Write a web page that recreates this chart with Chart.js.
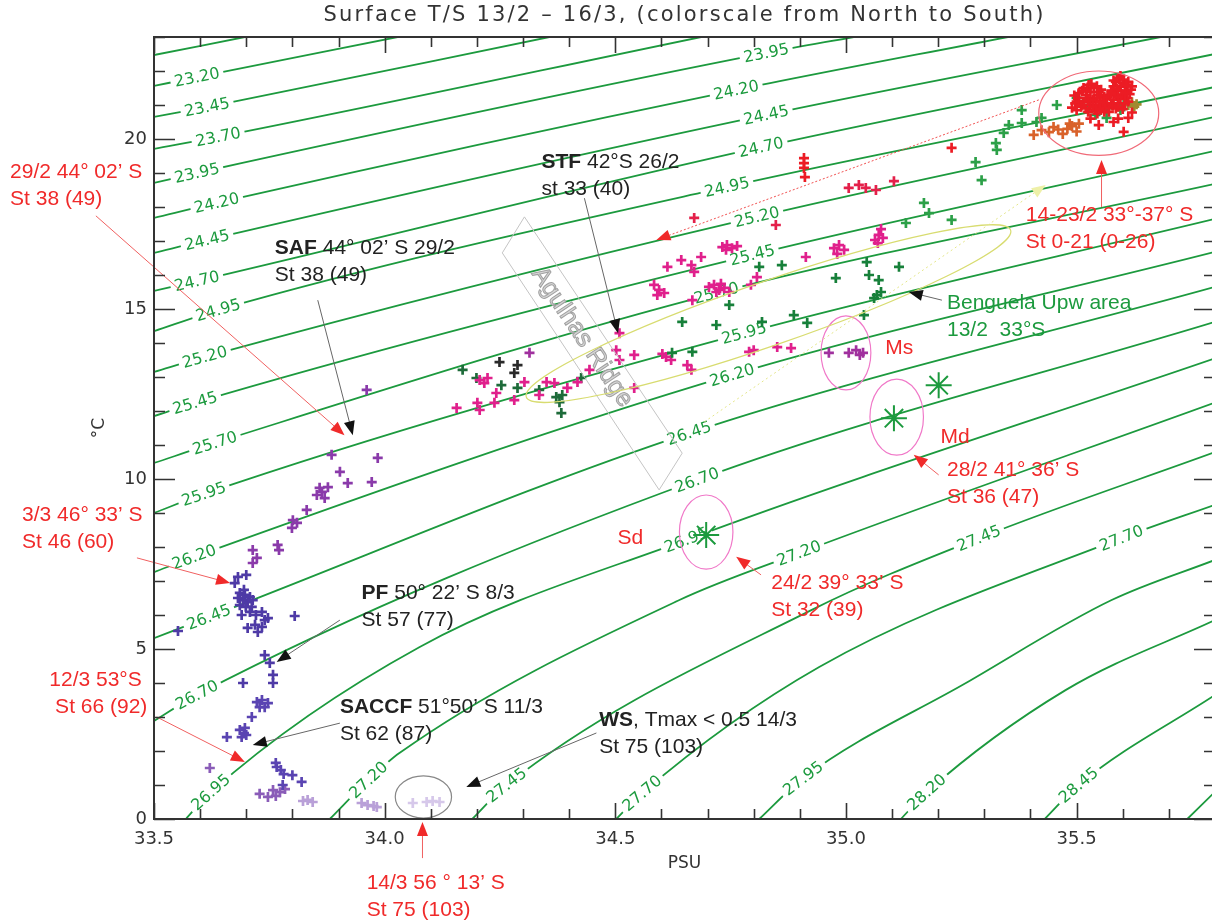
<!DOCTYPE html>
<html>
<head>
<meta charset="utf-8">
<title>Surface T/S</title>
<script src="https://cdn.jsdelivr.net/npm/chart.js@4.4.1/dist/chart.umd.min.js"></script>
<style>
  html, body { margin: 0; padding: 0; background: #fff; overflow: hidden; }
  #wrap { width: 1230px; height: 922px; }
</style>
</head>
<body>
<div id="wrap"><canvas id="ts" width="1230" height="922"></canvas></div>
<script>
// ── Axes ──────────────────────────────────────────────────────────────────────
const psuTicks  = [33.5, 34.0, 34.5, 35.0, 35.5];
const tempTicks = [0, 5, 10, 15, 20];

// ── Isopycnals (sigma-t), [PSU, °C] vertices ─────────────────────────────────
const sig2295 = [[33.5, 22.47], [33.697, 23.0]];
const sig2320 = [[33.5, 21.56], [33.593, 21.82], [34.028, 23.0]];
const sig2345 = [[33.5, 20.65], [33.615, 20.94], [34.357, 23.0]];
const sig2370 = [[33.5, 19.71], [33.639, 20.06], [34.686, 23.0]];
const sig2395 = [[33.5, 18.71], [33.593, 19.0], [34.827, 22.53], [35.017, 23.0]];
const sig2420 = [[33.5, 17.68], [33.636, 18.12], [34.762, 21.44], [35.351, 23.0]];
const sig2445 = [[33.5, 16.65], [33.615, 17.03], [34.827, 20.71], [35.682, 23.0]];
const sig2470 = [[33.5, 15.53], [33.593, 15.82], [34.816, 19.76], [35.8, 22.50]];
const sig2495 = [[33.5, 14.35], [33.639, 14.97], [34.742, 18.59], [35.8, 21.53]];
const sig2520 = [[33.5, 13.15], [33.610, 13.59], [34.807, 17.71], [35.8, 20.65]];
const sig2545 = [[33.5, 11.85], [33.589, 12.24], [34.797, 16.59], [35.8, 19.65]];
const sig2570 = [[33.5, 10.47], [33.632, 11.06], [34.719, 15.47], [35.8, 18.68]];
const sig2595 = [[33.5, 9.0], [33.608, 9.56], [34.779, 14.29], [35.8, 17.65]];
const sig2620 = [[33.5, 7.26], [33.587, 7.71], [34.753, 13.06], [35.8, 16.68]];
const sig2645 = [[33.5, 5.32], [33.619, 5.94], [34.660, 11.35], [35.8, 15.65]];
const sig2670 = [[33.5, 2.88], [33.593, 3.65], [34.677, 9.97], [35.8, 14.62]];
const sig2695 = [[33.569, 0], [33.623, 0.79], [34.076, 5.06], [34.654, 8.21], [35.8, 13.55]];
const sig2720 = [[33.881, 0], [33.965, 1.15], [34.032, 1.94], [34.639, 6.44], [34.898, 7.82], [35.8, 12.25]];
const sig2745 = [[34.190, 0], [34.264, 1.0], [34.926, 6.15], [35.288, 8.26], [35.8, 10.79]];
const sig2770 = [[34.502, 0], [34.558, 0.76], [34.942, 4.47], [35.597, 8.26], [35.8, 9.24]];
const sig2795 = [[34.812, 0], [34.907, 1.2], [35.260, 4.0], [35.576, 6.44], [35.8, 7.62]];
const sig2820 = [[35.119, 0], [35.175, 0.79], [35.476, 3.79], [35.8, 5.85]];
const sig2845 = [[35.431, 0], [35.504, 1.0], [35.8, 3.65]];
const sig2870 = [[35.740, 0], [35.8, 0.80]];

const isopycnals = [
  [22.95, sig2295], [23.20, sig2320], [23.45, sig2345], [23.70, sig2370],
  [23.95, sig2395], [24.20, sig2420], [24.45, sig2445], [24.70, sig2470],
  [24.95, sig2495], [25.20, sig2520], [25.45, sig2545], [25.70, sig2570],
  [25.95, sig2595], [26.20, sig2620], [26.45, sig2645], [26.70, sig2670],
  [26.95, sig2695], [27.20, sig2720], [27.45, sig2745], [27.70, sig2770],
  [27.95, sig2795], [28.20, sig2820], [28.45, sig2845], [28.70, sig2870]
];

// where each contour carries its value label (sigma, PSU, °C)
const isoLabelSpots = [
  [23.20, 33.593, 21.82], [23.45, 33.615, 20.94], [23.70, 33.639, 20.06],
  [23.95, 33.593, 19.0],  [24.20, 33.636, 18.12], [24.45, 33.615, 17.03],
  [24.70, 33.593, 15.82], [24.95, 33.639, 14.97], [25.20, 33.610, 13.59],
  [25.45, 33.589, 12.24], [25.70, 33.632, 11.06], [25.95, 33.608, 9.56],
  [26.20, 33.587, 7.71],  [26.45, 33.619, 5.94],  [26.70, 33.593, 3.65],
  [26.95, 33.623, 0.79],  [27.20, 33.965, 1.15],  [27.45, 34.264, 1.0],
  [27.70, 34.558, 0.76],  [27.95, 34.907, 1.2],   [28.20, 35.175, 0.79],
  [28.45, 35.504, 1.0],
  [23.95, 34.827, 22.53], [24.20, 34.762, 21.44], [24.45, 34.827, 20.71],
  [24.70, 34.816, 19.76], [24.95, 34.742, 18.59], [25.20, 34.807, 17.71],
  [25.45, 34.797, 16.59], [25.70, 34.719, 15.47], [25.95, 34.779, 14.29],
  [26.20, 34.753, 13.06], [26.45, 34.660, 11.35], [26.70, 34.677, 9.97],
  [26.95, 34.654, 8.21],  [27.20, 34.898, 7.82],  [27.45, 35.288, 8.26],
  [27.70, 35.597, 8.26]
];

// ── Surface stations, [PSU, °C], grouped north to south ──────────────────────
const northRed = [
  [35.515, 21.5], [35.526, 21.59], [35.537, 21.5], [35.53, 21.38], [35.52, 21.29],
  [35.537, 21.2], [35.548, 21.38], [35.55, 21.29], [35.541, 21.09], [35.53, 21.0],
  [35.515, 21.09], [35.505, 21.2], [35.548, 21.0], [35.558, 21.12], [35.56, 21.25],
  [35.52, 20.9], [35.54, 20.85], [35.555, 20.95], [35.51, 20.95], [35.497, 21.05],
  [35.49, 20.92], [35.50, 20.85], [35.525, 20.8], [35.545, 20.75], [35.56, 20.8],
  [35.591, 21.79], [35.602, 21.75], [35.585, 21.68], [35.6, 21.65], [35.612, 21.68],
  [35.58, 21.55], [35.595, 21.55], [35.61, 21.55], [35.575, 21.42], [35.59, 21.42],
  [35.605, 21.42], [35.618, 21.45], [35.57, 21.3], [35.585, 21.3], [35.6, 21.3],
  [35.615, 21.32], [35.565, 21.18], [35.58, 21.15], [35.595, 21.18], [35.61, 21.2],
  [35.575, 21.05], [35.59, 21.05], [35.605, 21.05], [35.57, 20.92], [35.585, 20.9],
  [35.6, 20.88], [35.565, 21.05], [35.57, 20.8], [35.548, 20.41], [35.58, 20.5],
  [35.602, 20.21], [35.612, 20.62], [35.59, 20.6], [35.53, 20.6], [35.62, 20.78],
  [35.505, 21.35], [35.512, 21.42], [35.522, 21.45], [35.532, 21.62], [35.544, 21.55],
  [35.553, 21.45], [35.5, 21.1], [35.495, 21.28], [35.535, 21.15], [35.545, 21.22],
  [35.552, 21.08], [35.525, 21.12], [35.51, 21.0], [35.58, 21.72], [35.595, 21.85],
  [35.607, 21.6], [35.62, 21.55], [35.588, 21.48], [35.575, 21.35], [35.59, 21.24],
  [35.605, 21.36], [35.612, 21.1], [35.578, 20.98], [35.562, 20.9], [35.59, 20.95],
  [35.535, 20.95], [35.55, 20.88],
  [34.909, 19.44], [34.909, 19.29], [34.909, 19.15], [34.911, 18.88], [35.229, 19.74]
];
const northOrange = [
  [35.407, 20.12], [35.424, 20.26], [35.44, 20.2], [35.45, 20.35], [35.46, 20.28],
  [35.47, 20.15], [35.48, 20.3], [35.49, 20.38], [35.50, 20.22], [35.505, 20.45], [35.485, 20.45]
];
const northOlive = [[35.612, 21.0], [35.625, 20.95], [35.62, 21.08], [35.63, 21.02]];
const crimsonRow = [
  [35.006, 18.56], [35.028, 18.65], [35.043, 18.56], [35.065, 18.5], [35.104, 18.76],
  [34.671, 17.68], [34.848, 17.47]
];
const benguelaGreen = [
  [35.13, 17.53], [35.169, 18.12], [35.18, 17.82], [35.229, 17.62], [35.281, 19.32],
  [35.294, 18.79], [35.325, 19.88], [35.327, 19.68], [35.342, 20.18], [35.353, 20.41],
  [35.381, 20.85], [35.381, 20.47], [35.413, 20.5], [35.424, 20.62], [35.457, 21.0],
  [35.50, 21.21], [35.526, 20.94], [35.552, 20.85], [35.541, 20.71], [35.565, 20.91],
  [35.602, 21.0], [35.595, 20.85], [35.515, 21.09], [35.565, 20.62]
];
const benguelaDark = [
  [34.978, 15.91], [35.045, 16.38], [35.05, 16.0], [35.071, 15.85], [35.115, 16.24],
  [35.067, 15.41], [35.076, 15.5], [35.061, 15.32], [35.039, 14.82], [34.812, 16.24],
  [34.861, 16.29], [34.747, 15.12], [34.887, 14.82], [34.916, 14.59], [34.818, 14.62],
  [34.645, 14.62], [34.719, 14.53], [34.667, 13.74], [34.623, 13.71]
];
const stfMagenta = [
  [34.732, 16.82], [34.742, 16.88], [34.753, 16.79], [34.764, 16.85], [34.740, 16.74],
  [34.613, 16.24], [34.643, 16.44], [34.665, 16.29], [34.686, 16.53], [34.671, 16.09],
  [34.913, 16.53], [34.807, 15.94], [34.794, 15.71], [34.584, 15.71], [34.595, 15.56],
  [34.606, 15.47], [34.591, 15.41], [34.667, 15.26], [34.703, 15.65], [34.714, 15.71],
  [34.725, 15.56], [34.736, 15.62], [34.747, 15.5], [34.719, 15.5], [34.729, 15.74],
  [34.974, 16.79], [34.985, 16.88], [34.996, 16.74], [34.981, 16.62], [35.063, 17.03],
  [35.071, 17.18], [35.08, 17.09], [35.069, 16.94], [35.076, 17.35],
  [34.509, 14.29], [34.502, 13.79], [34.509, 13.5], [34.541, 13.65], [34.61, 13.59],
  [34.602, 13.68], [34.621, 13.5], [34.656, 13.35], [34.665, 13.21], [34.79, 13.74],
  [34.80, 13.79], [34.851, 13.88], [34.881, 13.85], [34.444, 13.21], [34.541, 12.68],
  [34.418, 12.85], [34.396, 12.68], [34.368, 12.82], [34.351, 12.85], [34.335, 12.47],
  [34.303, 12.85], [34.216, 12.82], [34.206, 12.91], [34.223, 12.97], [34.242, 12.53],
  [34.281, 12.32], [34.201, 12.24], [34.206, 12.03], [34.238, 12.24], [34.156, 12.09]
];
const stfDarkGreen = [
  [34.169, 13.21], [34.199, 12.97], [34.253, 12.76], [34.288, 12.68], [34.335, 12.62],
  [34.372, 12.41], [34.385, 12.47], [34.379, 12.26], [34.383, 11.94], [34.426, 12.97]
];
const stfBlack = [[34.249, 13.44], [34.281, 13.12], [34.288, 13.35]];
const msViolet = [[34.314, 13.71], [34.963, 13.71], [35.006, 13.71], [35.022, 13.79], [35.03, 13.65], [35.037, 13.71]];
const safPurple = [
  [33.961, 12.62], [33.885, 10.71], [33.985, 10.62], [33.903, 10.21], [33.92, 9.88],
  [33.972, 9.91], [33.877, 9.76], [33.859, 9.74], [33.853, 9.53], [33.870, 9.44],
  [33.864, 9.62], [33.831, 9.09], [33.801, 8.79], [33.81, 8.71], [33.799, 8.56],
  [33.768, 8.06], [33.771, 7.91], [33.714, 7.91], [33.723, 7.68], [33.714, 7.53]
];
const pfBlue = [
  [33.70, 7.18], [33.682, 7.12], [33.675, 6.94], [33.686, 6.65], [33.697, 6.59],
  [33.708, 6.53], [33.693, 6.44], [33.703, 6.38], [33.714, 6.44], [33.686, 6.29],
  [33.699, 6.24], [33.712, 6.24], [33.682, 6.5], [33.695, 6.74], [33.708, 6.09],
  [33.721, 6.0], [33.69, 6.0], [33.734, 6.09], [33.74, 5.85], [33.719, 5.71],
  [33.703, 5.62], [33.725, 5.5], [33.734, 5.65], [33.747, 5.91], [33.805, 5.97],
  [33.552, 5.53], [33.74, 4.82], [33.751, 4.59], [33.758, 4.24], [33.758, 4.0], [33.693, 4.0]
];
const saccfBlue = [
  [33.723, 3.44], [33.734, 3.5], [33.747, 3.41], [33.74, 3.29], [33.729, 3.29],
  [33.712, 3.0], [33.686, 2.62], [33.695, 2.53], [33.70, 2.47], [33.69, 2.41],
  [33.697, 2.68], [33.658, 2.41], [33.766, 1.53], [33.775, 1.44], [33.781, 1.32],
  [33.764, 1.65], [33.80, 1.29], [33.82, 1.09], [33.779, 1.0]
];
const southPurple = [[33.621, 1.5], [33.773, 0.79], [33.758, 0.85], [33.729, 0.74], [33.764, 0.68], [33.784, 0.88], [33.747, 0.65]];
const southLavender = [[33.823, 0.53], [33.833, 0.56], [33.844, 0.5], [33.95, 0.47], [33.963, 0.41], [33.976, 0.38], [33.983, 0.35]];
const weddellPale = [[34.061, 0.47], [34.091, 0.5], [34.104, 0.53], [34.119, 0.5]];

// single CTD casts marked with a star (Sd, Md and the one beside it)
const castStars = [[34.697, 8.35], [35.104, 11.79], [35.201, 12.76]];

const stationGroups = [
  [northRed, '#ec1c24'], [northOrange, '#d9622a'], [northOlive, '#a08a30'],
  [crimsonRow, '#e4204a'], [benguelaGreen, '#2ca048'], [benguelaDark, '#17803a'],
  [stfMagenta, '#e0208c'], [stfDarkGreen, '#1e6b3a'], [stfBlack, '#2a2a2a'],
  [msViolet, '#a0309e'], [safPurple, '#8a3aaa'], [pfBlue, '#4e3aa6'],
  [saccfBlue, '#5a44b2'], [southPurple, '#8a5cb8'], [southLavender, '#b9a0d8'],
  [weddellPale, '#d6c8ea']
];

// ── Annotations (positions in PSU / °C) ───────────────────────────────────────
const RED = '#f02a2a';
const INK = '#222';
const ISO_GREEN = '#1c9a3e';

const notes = [
  { at: [33.188, 19.03], color: RED, lines: ['29/2 44° 02’ S', 'St 38 (49)'] },
  { at: [33.762, 16.79], color: INK, bold: 'SAF', lines: [' 44° 02’ S 29/2', 'St 38 (49)'] },
  { at: [34.340, 19.32], color: INK, bold: 'STF', lines: [' 42°S 26/2', 'st 33 (40)'] },
  { at: [35.390, 17.76], color: RED, lines: ['14-23/2 33°-37° S', 'St 0-21 (0-26)'] },
  { at: [35.219, 15.18], color: ISO_GREEN, lines: ['Benguela Upw area', '13/2  33°S'] },
  { at: [35.219, 10.26], color: RED, lines: ['28/2 41° 36’ S', 'St 36 (47)'] },
  { at: [34.838, 6.94], color: RED, lines: ['24/2 39° 33’ S', 'St 32 (39)'] },
  { at: [33.214, 8.94], color: RED, lines: ['3/3 46° 33’ S', 'St 46 (60)'] },
  { at: [33.950, 6.65], color: INK, bold: 'PF', lines: [' 50° 22’ S 8/3', 'St 57 (77)'] },
  { at: [33.273, 4.09], color: RED, lines: ['12/3 53°S', ' St 66 (92)'] },
  { at: [33.903, 3.29], color: INK, bold: 'SACCF', lines: [' 51°50’ S 11/3', 'St 62 (87)'] },
  { at: [34.465, 2.91], color: INK, bold: 'WS', lines: [', Tmax < 0.5 14/3', 'St 75 (103)'] },
  { at: [33.961, -1.88], color: RED, lines: ['14/3 56 ° 13’ S', 'St 75 (103)'] },
  { at: [35.085, 13.85], color: RED, lines: ['Ms'] },
  { at: [35.205, 11.24], color: RED, lines: ['Md'] },
  { at: [34.505, 8.26], color: RED, lines: ['Sd'] }
];

const arrows = [
  { from: [33.374, 17.74], to: [33.913, 11.29], line: '#f06060', head: RED },
  { from: [33.855, 15.26], to: [33.931, 11.29], line: '#666', head: '#111' },
  { from: [34.433, 18.26], to: [34.506, 14.29], line: '#666', head: '#111' },
  { from: [35.554, 18.0], to: [35.554, 19.38], line: '#f06060', head: RED },
  { from: [35.208, 15.26], to: [35.136, 15.5], line: '#666', head: '#111' },
  { from: [35.201, 10.12], to: [35.147, 10.71], line: '#f06060', head: RED },
  { from: [34.816, 7.18], to: [34.762, 7.71], line: '#f06060', head: RED },
  { from: [33.463, 7.68], to: [33.665, 6.94], line: '#f06060', head: RED },
  { from: [33.903, 5.85], to: [33.766, 4.62], line: '#666', head: '#111' },
  { from: [33.506, 3.0], to: [33.697, 1.68], line: '#f06060', head: RED },
  { from: [33.903, 2.82], to: [33.714, 2.18], line: '#666', head: '#111' },
  { from: [34.459, 2.53], to: [34.177, 0.94], line: '#666', head: '#111' },
  { from: [34.082, -1.15], to: [34.082, -0.09], line: '#f06060', head: RED },
  { from: [35.418, 21.15], to: [34.589, 17.03], line: '#f05050', head: RED, dash: [2, 2] },
  { from: [34.693, 11.68], to: [35.433, 18.65], line: '#e4e68a', head: '#eef0a8', dash: [2, 3] }
];

// ellipses: centre and half-widths in PSU / °C
const rings = [
  { c: [35.548, 20.76], r: [0.13, 1.24], color: '#f06a78' },
  { c: [35.000, 13.71], r: [0.054, 1.09], color: '#f078c8' },
  { c: [35.110, 11.82], r: [0.058, 1.12], color: '#f078c8' },
  { c: [34.697, 8.44], r: [0.058, 1.09], color: '#f078c8' },
  { c: [34.084, 0.65], r: [0.061, 0.62], color: '#888' }
];
// the tilted STF ellipse, given by its two ends
const stfRingEnds = [[34.307, 12.41], [35.357, 17.32]];
// Agulhas Ridge box corners
const ridgeBox = [[34.303, 17.71], [34.645, 10.76], [34.595, 9.68], [34.255, 16.65]];

// ── Drawing helpers ───────────────────────────────────────────────────────────
const toXY = arr => arr.map(([x, y]) => ({ x, y }));
const NOTE_FONT = '21px "Liberation Sans"';
const NOTE_BOLD = 'bold 21px "Liberation Sans"';

function drawArrow(ctx, x1, y1, x2, y2, lineCol, headCol, dash) {
  const a = Math.atan2(y2 - y1, x2 - x1);
  const hl = 14, hw = 5.5;
  ctx.save();
  ctx.strokeStyle = lineCol;
  ctx.lineWidth = 1;
  ctx.setLineDash(dash || []);
  ctx.beginPath();
  ctx.moveTo(x1, y1);
  ctx.lineTo(x2 - hl * 0.7 * Math.cos(a), y2 - hl * 0.7 * Math.sin(a));
  ctx.stroke();
  ctx.setLineDash([]);
  ctx.fillStyle = headCol;
  ctx.beginPath();
  ctx.moveTo(x2, y2);
  ctx.lineTo(x2 - hl * Math.cos(a) + hw * Math.sin(a), y2 - hl * Math.sin(a) - hw * Math.cos(a));
  ctx.lineTo(x2 - hl * Math.cos(a) - hw * Math.sin(a), y2 - hl * Math.sin(a) + hw * Math.cos(a));
  ctx.closePath();
  ctx.fill();
  ctx.restore();
}

const tsDecor = {
  id: 'tsDecor',

  // contour value labels, drawn right after their own line
  afterDatasetDraw(chart, args) {
    const ds = chart.data.datasets[args.index];
    if (ds.isoValue === undefined) return;
    const spots = isoLabelSpots.filter(s => s[0] === ds.isoValue);
    if (!spots.length) return;
    const ctx = chart.ctx;
    const els = args.meta.data;
    spots.forEach(([, sx, sy]) => {
      let best = 0, bestD = Infinity;
      ds.data.forEach((p, i) => {
        const d = Math.hypot(p.x - sx, p.y - sy);
        if (d < bestD) { bestD = d; best = i; }
      });
      const el = els[best];
      let ang;
      if (el.cp1x !== undefined && el.cp2x !== undefined && (el.cp2x - el.cp1x) !== 0) {
        ang = Math.atan2(el.cp2y - el.cp1y, el.cp2x - el.cp1x);
      } else {
        const a = els[Math.max(best - 1, 0)], b = els[Math.min(best + 1, els.length - 1)];
        ang = Math.atan2(b.y - a.y, b.x - a.x);
      }
      const txt = ds.isoValue.toFixed(2);
      ctx.save();
      ctx.translate(el.x, el.y);
      ctx.rotate(ang);
      ctx.font = '16px "DejaVu Sans"';
      const w = ctx.measureText(txt).width;
      ctx.fillStyle = '#fff';
      ctx.fillRect(-w / 2 - 4, -7, w + 8, 14);
      ctx.fillStyle = ISO_GREEN;
      ctx.textAlign = 'center';
      ctx.textBaseline = 'middle';
      ctx.fillText(txt, 0, 1);
      ctx.restore();
    });
  },

  afterDatasetsDraw(chart) {
    const { ctx, chartArea: ca } = chart;
    const xs = chart.scales.x, ys = chart.scales.y;
    const X = v => xs.getPixelForValue(v);
    const Y = v => ys.getPixelForValue(v);

    // Agulhas Ridge box and its name
    ctx.save();
    ctx.strokeStyle = '#c4c4c4';
    ctx.lineWidth = 1;
    ctx.beginPath();
    ridgeBox.forEach(([s, t], i) => i ? ctx.lineTo(X(s), Y(t)) : ctx.moveTo(X(s), Y(t)));
    ctx.closePath();
    ctx.stroke();
    const r0 = ridgeBox[0], r1 = ridgeBox[1], r2 = ridgeBox[2], r3 = ridgeBox[3];
    const rAng = Math.atan2(Y(r1[1]) - Y(r0[1]), X(r1[0]) - X(r0[0]));
    const rcx = (X(r0[0]) + X(r1[0]) + X(r2[0]) + X(r3[0])) / 4;
    const rcy = (Y(r0[1]) + Y(r1[1]) + Y(r2[1]) + Y(r3[1])) / 4;
    ctx.translate(rcx - 10, rcy - 16);
    ctx.rotate(rAng);
    ctx.font = '25px "Liberation Sans"';
    ctx.textAlign = 'center';
    ctx.textBaseline = 'middle';
    ctx.fillStyle = '#d6d6d6';
    ctx.strokeStyle = '#a0a0a0';
    ctx.lineWidth = 1;
    ctx.fillText('Agulhas Ridge', 0, 0);
    ctx.strokeText('Agulhas Ridge', 0, 0);
    ctx.restore();

    // ellipses
    ctx.save();
    ctx.lineWidth = 1.2;
    rings.forEach(r => {
      const cx = X(r.c[0]), cy = Y(r.c[1]);
      const rx = Math.abs(X(r.c[0] + r.r[0]) - cx), ry = Math.abs(Y(r.c[1] + r.r[1]) - cy);
      ctx.strokeStyle = r.color;
      ctx.beginPath();
      ctx.ellipse(cx, cy, rx, ry, 0, 0, Math.PI * 2);
      ctx.stroke();
    });
    const e1 = stfRingEnds[0], e2 = stfRingEnds[1];
    const ex1 = X(e1[0]), ey1 = Y(e1[1]), ex2 = X(e2[0]), ey2 = Y(e2[1]);
    ctx.strokeStyle = '#d8dc70';
    ctx.beginPath();
    ctx.ellipse((ex1 + ex2) / 2, (ey1 + ey2) / 2, Math.hypot(ex2 - ex1, ey2 - ey1) / 2, 32,
      Math.atan2(ey2 - ey1, ex2 - ex1), 0, Math.PI * 2);
    ctx.stroke();
    ctx.restore();

    // arrows
    arrows.forEach(a => drawArrow(ctx, X(a.from[0]), Y(a.from[1]), X(a.to[0]), Y(a.to[1]), a.line, a.head, a.dash));

    // text notes
    ctx.save();
    ctx.textAlign = 'left';
    ctx.textBaseline = 'middle';
    notes.forEach(n => {
      const x = X(n.at[0]), y = Y(n.at[1]);
      ctx.fillStyle = n.color;
      n.lines.forEach((ln, i) => {
        let cx = x;
        if (i === 0 && n.bold) {
          ctx.font = NOTE_BOLD;
          ctx.fillText(n.bold, cx, y);
          cx += ctx.measureText(n.bold).width;
        }
        ctx.font = NOTE_FONT;
        ctx.fillText(ln, cx, y + i * 27);
      });
    });
    ctx.restore();

    // frame and inward tick marks on all four sides
    ctx.save();
    ctx.strokeStyle = '#333';
    ctx.lineWidth = 2;
    ctx.strokeRect(ca.left, ca.top, ca.right - ca.left, ca.bottom - ca.top);
    ctx.lineWidth = 1.6;
    ctx.beginPath();
    for (let k = 0; 33.5 + k * 0.1 <= 35.8 + 1e-9; k++) {
      const v = 33.5 + k * 0.1;
      const major = psuTicks.some(t => Math.abs(t - v) < 1e-6);
      const px = Math.round(X(v)) + 0.5, len = major ? 16 : 10;
      ctx.moveTo(px, ca.bottom); ctx.lineTo(px, ca.bottom - len);
      ctx.moveTo(px, ca.top); ctx.lineTo(px, ca.top + len);
    }
    for (let v = 0; v <= 23; v++) {
      const major = tempTicks.includes(v);
      const py = Math.round(Y(v)) + 0.5, len = major ? 21 : 11;
      ctx.moveTo(ca.left, py); ctx.lineTo(ca.left + len, py);
      ctx.moveTo(ca.right, py); ctx.lineTo(ca.right - len, py);
    }
    ctx.stroke();
    ctx.restore();

    // title and axis names
    ctx.save();
    ctx.fillStyle = '#333';
    ctx.textAlign = 'center';
    ctx.textBaseline = 'middle';
    ctx.font = '21px "DejaVu Sans"';
    ctx.letterSpacing = '2.2px';
    ctx.fillText('Surface T/S 13/2 – 16/3, (colorscale from North to South)', (ca.left + ca.right) / 2, 16);
    ctx.letterSpacing = '0px';
    ctx.font = '17px "DejaVu Sans"';
    ctx.fillText('PSU', (ca.left + ca.right) / 2, ca.bottom + 45);
    ctx.translate(ca.left - 54, (ca.top + ca.bottom) / 2);
    ctx.rotate(-Math.PI / 2);
    ctx.fillText('°C', 0, 0);
    ctx.restore();
  }
};

// ── Datasets ──────────────────────────────────────────────────────────────────
const datasets = [];
datasets.push({
  data: toXY(castStars), showLine: false, order: 0,
  pointStyle: 'star', pointRadius: 13, pointBorderWidth: 2,
  pointBorderColor: ISO_GREEN, pointBackgroundColor: ISO_GREEN
});
stationGroups.forEach(([pts, color]) => datasets.push({
  data: toXY(pts), showLine: false, order: 1,
  pointStyle: 'cross', pointRadius: 5, pointBorderWidth: 2.7,
  pointBorderColor: color, pointBackgroundColor: color
}));
isopycnals.forEach(([sig, pts]) => datasets.push({
  data: toXY(pts), isoValue: sig, showLine: true, order: 5,
  borderColor: ISO_GREEN, borderWidth: 1.8, pointRadius: 0,
  cubicInterpolationMode: 'monotone', fill: false
}));

new Chart(document.getElementById('ts'), {
  type: 'scatter',
  data: { datasets },
  options: {
    responsive: false,
    animation: false,
    events: [],
    layout: { padding: { top: 37, right: 13, left: 0, bottom: 0 } },
    plugins: { legend: { display: false }, tooltip: { enabled: false }, title: { display: false } },
    scales: {
      x: {
        type: 'linear', min: 33.5, max: 35.8,
        afterBuildTicks: s => { s.ticks = psuTicks.map(value => ({ value })); },
        afterFit: s => { s.height = 103; },
        grid: { display: false, drawTicks: false },
        border: { display: false },
        ticks: {
          color: '#333', padding: 10, maxRotation: 0, autoSkip: false,
          font: { family: 'DejaVu Sans', size: 18 },
          callback: v => Number(v).toFixed(1)
        }
      },
      y: {
        type: 'linear', min: 0, max: 23,
        afterBuildTicks: s => { s.ticks = tempTicks.map(value => ({ value })); },
        afterFit: s => { s.width = 154; },
        grid: { display: false, drawTicks: false },
        border: { display: false },
        ticks: {
          color: '#333', padding: 7, autoSkip: false,
          font: { family: 'DejaVu Sans', size: 18 },
          callback: v => String(v)
        }
      }
    }
  },
  plugins: [tsDecor]
});
</script>
</body>
</html>
